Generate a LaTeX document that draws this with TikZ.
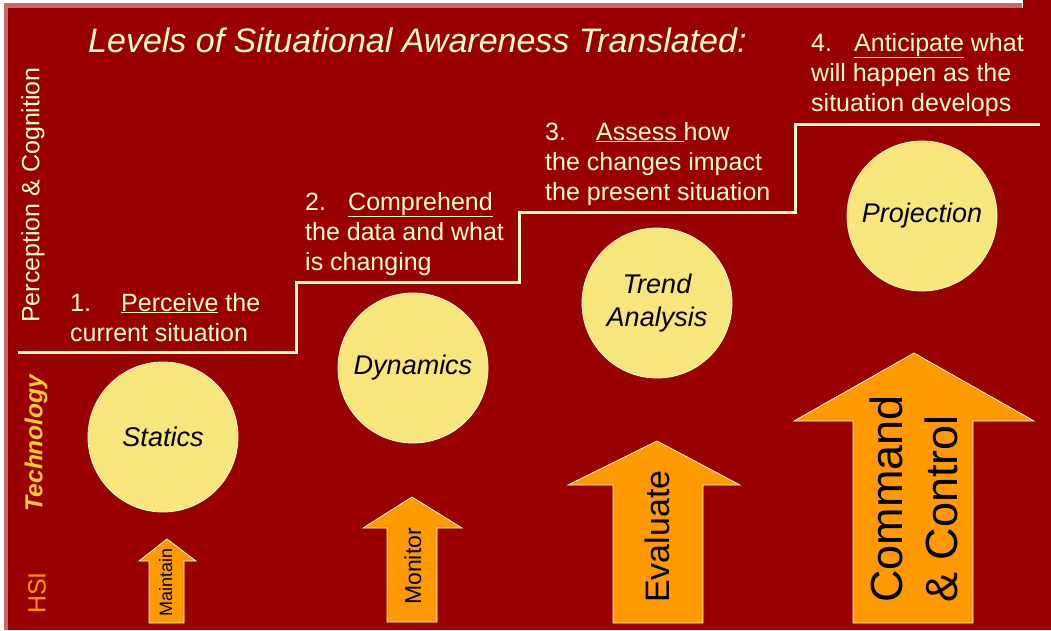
\documentclass[tikz,border=0pt]{standalone}
\usepackage{fontspec}
\setmainfont{Liberation Sans}
\definecolor{bgred}{HTML}{990000}
\definecolor{edgepink}{HTML}{C46A6A}
\definecolor{cream}{HTML}{FFFFCC}
\definecolor{disc}{HTML}{F6E67C}
\definecolor{amber}{HTML}{FF9900}
\definecolor{gold}{HTML}{FFCC33}
\begin{document}
\begin{tikzpicture}[x=1pt,y=-1pt,
  steptext/.style={anchor=base west,inner sep=0pt,align=left,text=cream,
    font=\fontsize{25}{30}\selectfont},
  sidelabel/.style={rotate=90,inner sep=0pt,font=\fontsize{25}{30}\selectfont},
  level/.style={circle,draw=cream,line width=0.8pt,fill=disc,minimum size=150pt,
    inner sep=0pt,align=center,font=\fontsize{27}{33}\selectfont\itshape},
  hsiarrow/.style={fill=amber,draw=cream,line width=0.8pt,line join=miter},
  arrowtext/.style={rotate=90,anchor=base west,inner sep=0pt,text=black},
  stair/.style={draw=cream,line width=3pt}]
\useasboundingbox (0,0) rectangle (1051,630);
% panel and its edge
\fill[edgepink] (4,3) rectangle (1022,630);
\fill[bgred] (8,8) rectangle (1051,630);
\fill[bgred] (1023,0) rectangle (1051,8);

% title
\node[anchor=base west,inner sep=0pt,text=cream,font=\fontsize{34}{40}\selectfont\itshape]
  (title) at (88,52) {Levels of Situational Awareness Translated:};

% side labels
\node[sidelabel,text=cream] (pc) at (33,195) {Perception \& Cognition};
\node[sidelabel,text=gold,font=\fontsize{24.5}{30}\selectfont\bfseries\itshape] (tech) at (36,443) {Technology};
\node[sidelabel,text=amber] (hsi) at (37,593) {HSI};

% staircase
\draw[stair] (18,352) -- (296,352) -- (296,282) -- (519,282) -- (519,212)
  -- (795,212) -- (795,124) -- (1040,124);

% step descriptions (anchored on the baseline of their last line)
\node[steptext] (s1) at (70,341) {\makebox[51pt][l]{1.}\underline{Perceive} the\\current situation};
\node[steptext] (s2) at (305,270) {\makebox[43pt][l]{2.}\underline{Comprehend}\\the data and what\\is changing};
\node[steptext] (s3) at (545,200) {\makebox[51pt][l]{3.}\underline{Assess }how\\the changes impact\\the present situation};
\node[steptext] (s4) at (811,111) {\makebox[43pt][l]{4.}\underline{Anticipate} what\\will happen as the\\situation develops};

% levels
\node[level] (statics) at (163,437) {Statics};
\node[level] (dynamics) at (413,368) {Dynamics};
\node[level] (trend) at (657,303) {Trend\\Analysis};
\node[level] (projection) at (922,216) {Projection};

% HSI arrows
\draw[hsiarrow] (167,539) -- (196,561) -- (184,561) -- (184,623) -- (149,623)
  -- (149,561) -- (139,561) -- cycle;
\draw[hsiarrow] (412,497) -- (462,528) -- (437,528) -- (437,622) -- (387,622)
  -- (387,528) -- (363,528) -- cycle;
\draw[hsiarrow] (657,441) -- (740,485) -- (703,485) -- (703,623) -- (613,623)
  -- (613,485) -- (568,485) -- cycle;
\draw[hsiarrow] (914,353) -- (1034,421) -- (973,421) -- (973,623) -- (853,623)
  -- (853,421) -- (794,421) -- cycle;

\node[arrowtext,font=\fontsize{18}{20}\selectfont] (maintain) at (172,617) {Maintain};
\node[arrowtext,font=\fontsize{23}{26}\selectfont] (monitor) at (421,605) {Monitor};
\node[arrowtext,font=\fontsize{34}{38}\selectfont] (evaluate) at (669,603) {Evaluate};
\node[arrowtext,font=\fontsize{45}{55}\selectfont,align=left] (cc) at (957,603) {Command\\\& Control};
\end{tikzpicture}
\end{document}
